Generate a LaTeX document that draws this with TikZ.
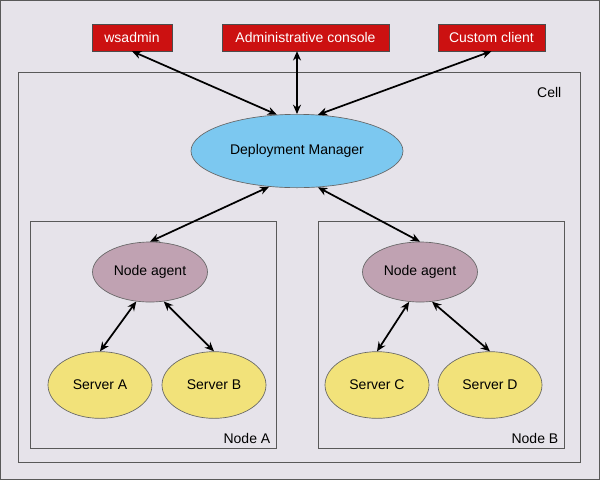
\documentclass[tikz,border=0pt]{standalone}
\usepackage{fontspec}
\setmainfont{Liberation Sans}
\usetikzlibrary{shapes.geometric,arrows.meta}
\definecolor{bg}{HTML}{E6E3EA}
\definecolor{red1}{HTML}{CC1111}
\definecolor{blue1}{HTML}{7CC8F0}
\definecolor{mauve}{HTML}{C0A2B2}
\definecolor{yel}{HTML}{F2E27A}
\begin{document}
\begin{tikzpicture}[x=0.75pt,y=-0.75pt,font=\fontsize{10.5pt}{12pt}\selectfont,
 box/.style={draw=gray!70!black,line width=0.6pt},
 client/.style={draw=black!70,fill=red1,text=white,minimum height=20pt,inner xsep=5pt,line width=0.5pt},
 ell/.style={ellipse,draw=black!60,line width=0.5pt},
 conn/.style={{Stealth[length=7pt,width=6pt]}-{Stealth[length=7pt,width=6pt]},line width=1.3pt}]
\useasboundingbox (0,0) rectangle (600,480);
\fill[bg] (0,0) rectangle (600,480);
\draw[box] (0.5,0.5) rectangle (599.5,479.5);
\draw[box] (18,72) rectangle (580,462);
\draw[box] (30,221) rectangle (276,448);
\draw[box] (318,221) rectangle (564,448);
\node[anchor=east] (cell) at (566,92) {Cell};
\node[anchor=east] (na) at (275,438) {Node A};
\node[anchor=east] (nb) at (563,438) {Node B};
\node[client,minimum width=60pt] (ws) at (132,37.5) {wsadmin};
\node[client,minimum width=125pt] (ac) at (305.5,37.5) {Administrative console};
\node[client,minimum width=80pt] (cc) at (491.5,37.5) {Custom client};
\node[ell,fill=blue1,minimum width=159pt,minimum height=55pt] (dm) at (297,151) {Deployment Manager};
\node[ell,fill=mauve,minimum width=81pt,minimum height=45pt] (ag1) at (150,272) {Node agent};
\node[ell,fill=mauve,minimum width=81pt,minimum height=45pt] (ag2) at (420,272) {Node agent};
\node[ell,fill=yel,minimum width=78pt,minimum height=50pt] (sa) at (100,385) {Server A};
\node[ell,fill=yel,minimum width=78pt,minimum height=50pt] (sb) at (214,385) {Server B};
\node[ell,fill=yel,minimum width=78pt,minimum height=50pt] (sc) at (377,385) {Server C};
\node[ell,fill=yel,minimum width=78pt,minimum height=50pt] (sd) at (490,385) {Server D};
\draw[conn] (ws.south) -- (dm.119);
\draw[conn] (ac.south -| dm.north) -- (dm.north);
\draw[conn] (cc.south) -- (dm.60);
\draw[conn] (dm.232) -- (ag1.north);
\draw[conn] (dm.300) -- (ag2.north);
\draw[conn] (ag1.245) -- (sa.north);
\draw[conn] (ag1.295) -- (sb.north);
\draw[conn] (ag2.250) -- (sc.north);
\draw[conn] (ag2.292) -- (sd.north);
\end{tikzpicture}
\end{document}
